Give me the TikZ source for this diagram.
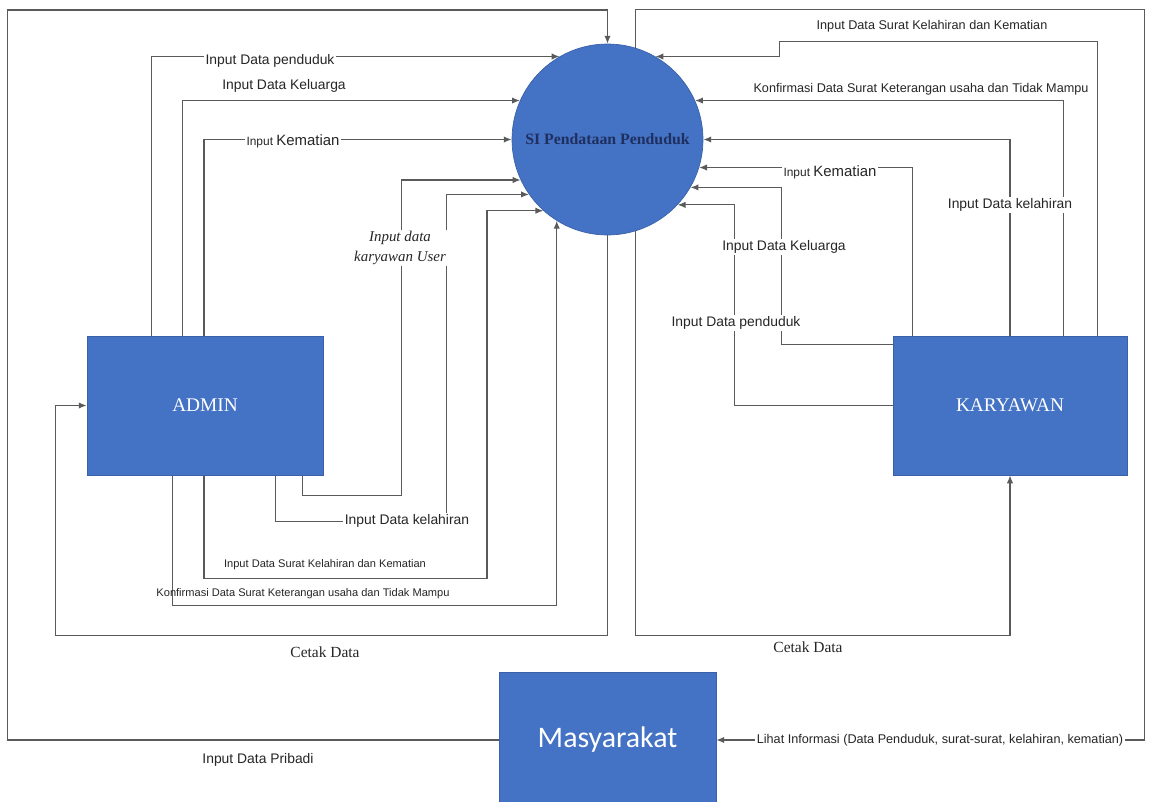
\documentclass[tikz,border=0pt]{standalone}
\usepackage{fontspec}
\setmainfont{Liberation Serif}
\newfontfamily\labfont{Liberation Sans}
\newfontfamily\calfont{Carlito}
\usetikzlibrary{arrows.meta,backgrounds}
\definecolor{blu}{HTML}{4472C4}
\definecolor{navy}{HTML}{1F2F5F}
\definecolor{ln}{HTML}{5A5A5A}
\tikzset{
 flow/.style={draw=ln, line width=0.7pt, -{Latex[length=4.5pt,width=3.6pt]}},
 ent/.style={rectangle, fill=blu, draw=blu!85!black, line width=0.4pt, text=white, inner sep=0pt, font=\fontsize{11}{13}\selectfont},
 proc/.style={circle, fill=blu, draw=blu!85!black, line width=0.4pt, minimum size=3.82cm, inner sep=0pt, text=navy, font=\bfseries\fontsize{9}{11}\selectfont},
 lbl/.style={font=\labfont\fontsize{7.9}{9}\selectfont, text=black!85, inner sep=1pt},
 lblw/.style={lbl, fill=white},
 small/.style={font=\labfont\fontsize{6.3}{7.5}\selectfont},
 mid/.style={font=\labfont\fontsize{7.2}{8.5}\selectfont},
 serlbl/.style={font=\fontsize{8.8}{10}\selectfont, text=black!85, inner sep=1pt}
}
\newcommand{\inkem}{{\labfont\fontsize{6.8}{8}\selectfont Input }{\fontsize{8.5}{9}\selectfont Kematian}}
\begin{document}
\begin{tikzpicture}[x=0.02cm,y=-0.02cm]
\useasboundingbox (0,0) rectangle (1149,801);
\clip (0,0) rectangle (1149,801);
% nodes
\node[proc] (si) at (607.5,139.5) {SI Pendataan Penduduk};
\node[ent, minimum width=4.72cm, minimum height=2.78cm] (admin) at (205,405.5) {ADMIN};
\node[ent, minimum width=4.68cm, minimum height=2.78cm] (kar) at (1010,405.5) {KARYAWAN};
\node[ent, minimum width=4.34cm, minimum height=2.72cm, font=\calfont\fontsize{17}{19}\selectfont] (mas) at (607.5,740) {Masyarakat};
\begin{scope}[on background layer]
\fill[white] (0,0) rectangle (1149,801);
% Masyarakat <-> SI
\draw[flow] (mas.west) -- ++(-491,0) -- ++(0,-730) -| (si.north);
\draw[flow] (si.73) -- ++(0,-38) -- ++(509,0) |- (mas.east);
% Cetak Data
\draw[flow] (si.south) -- ++(0,400) -- ++(-552,0) |- (admin.west);
\draw[flow] (si.287) -- ++(0,404) -| (kar.south);
% ADMIN -> SI (top)
\draw[flow] ([xshift=1.3cm]admin.north west) |- (si.120);
\draw[flow] ([xshift=1.92cm]admin.north west) |- (si.156);
\draw[flow] ([xshift=-0.02cm]admin.north) |- (si.west);
% ADMIN -> SI (bottom)
\draw[flow] ([xshift=4.32cm]admin.south west) |- ++(99,20) |- (si.205);
\draw[flow] ([xshift=3.78cm]admin.south west) |- ++(171,46) |- (si.215);
\draw[flow] ([xshift=-0.02cm]admin.south) |- ++(283,103) |- (si.228);
\draw[flow] ([xshift=1.72cm]admin.south west) -- ++(0,130) -| (si.238);
% KARYAWAN -> SI
\draw[flow] ([xshift=-0.6cm]kar.north east) |- ++(-318,-294) |- (si.60);
\draw[flow] ([xshift=-1.28cm]kar.north east) |- (si.24);
\draw[flow] (kar.north) |- (si.east);
\draw[flow] ([xshift=0.4cm]kar.north west) |- (si.343);
\draw[flow] ([yshift=-0.18cm]kar.north west) -- ++(-111,0) |- (si.330);
\draw[flow] (kar.west) -- ++(-158,0) |- (si.317);
\end{scope}
% labels
\node[lblw] (l1) at (270,61) {Input Data penduduk};
\node[lbl] (l2) at (284,86) {Input Data Keluarga};
\node[lblw] (l3) at (293,141) {\inkem};
\node[serlbl, fill=white, font=\itshape\fontsize{8.5}{11}\selectfont, align=center] (l4) at (400,248) {Input data\\karyawan User};
\node[lblw] (l5) at (407,521) {Input Data kelahiran};
\node[lbl, small] (l6) at (325,565) {Input Data Surat Kelahiran dan Kematian};
\node[lbl, small] (l7) at (303,594) {Konfirmasi Data Surat Keterangan usaha dan Tidak Mampu};
\node[serlbl] (c1) at (325,652) {Cetak Data};
\node[serlbl] (c2) at (808,647) {Cetak Data};
\node[lbl] (p1) at (258,760) {Input Data Pribadi};
\node[lblw, mid] (m1) at (940,740) {Lihat Informasi (Data Penduduk, surat-surat, kelahiran, kematian)};
\node[lbl, mid] (r1) at (932,26) {Input Data Surat Kelahiran dan Kematian};
\node[lbl, mid] (r2) at (921,89) {Konfirmasi Data Surat Keterangan usaha dan Tidak Mampu};
\node[lblw] (r3) at (1010,205) {Input Data kelahiran};
\node[lblw] (r4) at (830,172) {\inkem};
\node[lblw] (r5) at (784,247) {Input Data Keluarga};
\node[lblw] (r6) at (736,323) {Input Data penduduk};
\end{tikzpicture}
\end{document}
